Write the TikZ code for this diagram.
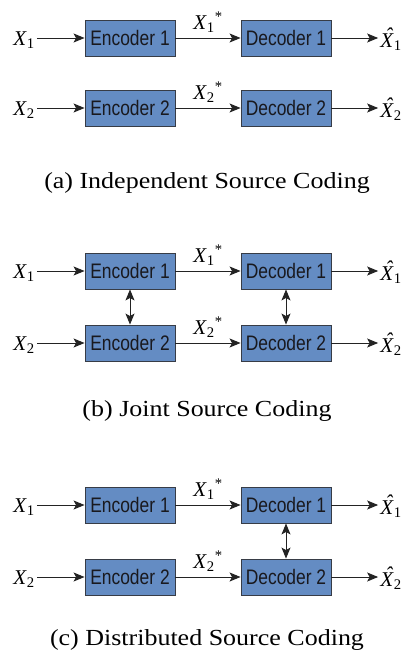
\documentclass[tikz,border=0pt]{standalone}
\usepackage{fontspec}
\setmainfont{Liberation Serif}
\newfontfamily\boxfont[FakeStretch=0.83]{Liberation Sans}
\newfontfamily\capfont[FakeStretch=1.13]{Liberation Serif}
\usetikzlibrary{arrows.meta}
\definecolor{boxfill}{RGB}{100,140,195}
\definecolor{boxline}{RGB}{55,60,70}
\definecolor{boxtext}{RGB}{25,25,30}
\definecolor{wire}{RGB}{35,35,35}
% signal names
\newcommand\sig[1]{\textit{X}\textsubscript{#1}}
\newcommand\sigenc[1]{\textit{X}\textsubscript{#1}\textsuperscript{*}}
\newcommand\sighat[1]{\textit{\makebox[0pt][l]{\hspace{0.24em}\raisebox{0.22em}{\char"02C6}}X}\textsubscript{#1}}
\begin{document}
\begin{tikzpicture}[x=1pt,y=-1pt,
  block/.style={draw=boxline, fill=boxfill, line width=0.9pt,
    minimum width=90pt, minimum height=36pt, inner sep=0pt,
    font=\boxfont\fontsize{21}{24}\selectfont, text=boxtext},
  label/.style={font=\fontsize{21}{24}\selectfont, inner sep=2pt},
  caption/.style={font=\capfont\fontsize{23}{27}\selectfont},
  tip/.tip={Stealth[length=11pt,width=9pt,inset=2.5pt]},
  link/.style={-tip, line width=0.9pt, draw=wire},
  twoway/.style={tip-tip, line width=0.9pt, draw=wire}]
\useasboundingbox (0,0) rectangle (409,661);

\foreach \p/\ya/\yb/\cy/\txt in {a/38/108/183/Independent,
                                  b/271/343/411/Joint,
                                  c/505/577/640/Distributed}{
  % two encoder/decoder chains
  \node[block] (enc1\p) at (130,\ya) {Encoder 1};
  \node[block] (dec1\p) at (286,\ya) {Decoder 1};
  \node[block] (enc2\p) at (130,\yb) {Encoder 2};
  \node[block] (dec2\p) at (286,\yb) {Decoder 2};
  \node[label] (in1\p)  at (24,\ya+2) {\sig{1}};
  \node[label] (in2\p)  at (24,\yb+2) {\sig{2}};
  \node[label] (out1\p) at (391,\ya+1) {\sighat{1}};
  \node[label] (out2\p) at (391,\yb+1) {\sighat{2}};
  \draw[link] (in1\p.east |- enc1\p.west) -- (enc1\p.west);
  \draw[link] (in2\p.east |- enc2\p.west) -- (enc2\p.west);
  \draw[link] (enc1\p) -- (dec1\p) node[label, midway, above=3pt] {\sigenc{1}};
  \draw[link] (enc2\p) -- (dec2\p) node[label, midway, above=3pt] {\sigenc{2}};
  \draw[link] (dec1\p) -- (out1\p.west |- dec1\p.east);
  \draw[link] (dec2\p) -- (out2\p.west |- dec2\p.east);
  \node[caption] (cap\p) at (207,\cy) {(\p) \txt{} Source Coding};
}

% cooperation between the chains
\draw[twoway] (enc1b) -- (enc2b);
\draw[twoway] (dec1b) -- (dec2b);
\draw[twoway] (dec1c) -- (dec2c);
\end{tikzpicture}
\end{document}
